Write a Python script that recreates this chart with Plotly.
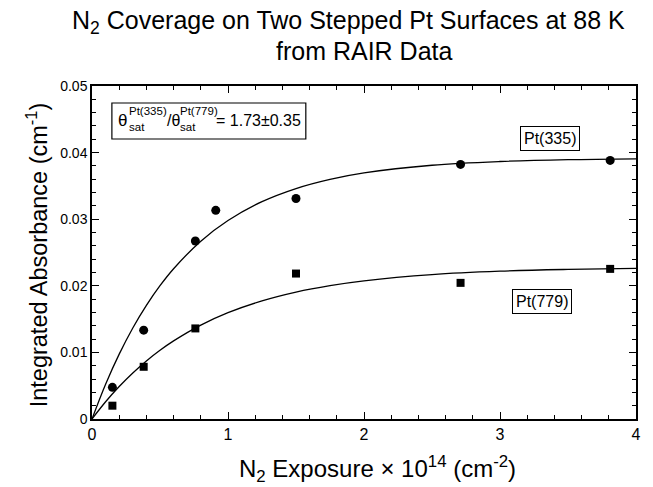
import plotly.graph_objects as go

# Measured data points
exposure = [0.15, 0.38, 0.76, 0.91, 1.50, 2.71, 3.81]
pt335 = [0.00475, 0.01334, 0.02673, 0.03133, 0.0331, 0.03823, 0.03883]
exposure_779 = [0.15, 0.38, 0.76, 1.50, 2.71, 3.81]
pt779 = [0.0020, 0.00784, 0.0136, 0.02184, 0.02044, 0.02254]

# Fit curves
fit_x = [0, 0.1, 0.2, 0.3, 0.4, 0.5, 0.6, 0.8, 1.0, 1.25, 1.5, 1.75, 2.0, 2.5, 3.0, 3.5, 4.0]
fit_335 = [0, 0.00522, 0.00974, 0.01367, 0.01706, 0.02001, 0.02256, 0.02670, 0.02980,
           0.03263, 0.03460, 0.03598, 0.03695, 0.03810, 0.03866, 0.03894, 0.03907]
fit_779 = [0, 0.00259, 0.00488, 0.00692, 0.00872, 0.01032, 0.01173, 0.01410, 0.01597,
           0.01774, 0.01906, 0.02003, 0.02075, 0.02168, 0.02219, 0.02246, 0.02262]

x_ticks = [0, 1, 2, 3, 4]
x_ticktext = ["0", "1", "2", "3", "4"]
y_ticks = [0, 0.01, 0.02, 0.03, 0.04, 0.05]
y_ticktext = ["0", "0.01", "0.02", "0.03", "0.04", "0.05"]

FONT = "Liberation Sans, Arial, sans-serif"
W, H = 653, 487
L, R, T, B = 92, 14, 86, 68
PW, PH = W - L - R, H - T - B

def px(x):
    return (x - L) / PW

def py(y):
    return (H - B - y) / PH

fig = go.Figure()
fig.add_trace(go.Scatter(x=fit_x, y=fit_335, mode="lines", line=dict(color="black", width=1.3, shape="spline"),
                         showlegend=False, hoverinfo="skip"))
fig.add_trace(go.Scatter(x=fit_x, y=fit_779, mode="lines", line=dict(color="black", width=1.3, shape="spline"),
                         showlegend=False, hoverinfo="skip"))
fig.add_trace(go.Scatter(x=exposure, y=pt335, mode="markers",
                         marker=dict(symbol="circle", size=9, color="black"), showlegend=False))
fig.add_trace(go.Scatter(x=exposure_779, y=pt779, mode="markers",
                         marker=dict(symbol="square", size=8, color="black"), showlegend=False))

axis_common = dict(
    showline=True, linecolor="black", linewidth=1.5, mirror="ticks",
    ticks="inside", ticklen=7, tickwidth=1.2, tickcolor="black",
    showgrid=False, zeroline=False,
)

fig.update_xaxes(range=[0, 4], tickvals=x_ticks, ticktext=x_ticktext,
                 tickfont=dict(family=FONT, size=16, color="black"),
                 minor=dict(dtick=0.2, ticks="inside", ticklen=4, tickwidth=1, tickcolor="black", showgrid=False),
                 **axis_common)
fig.update_yaxes(range=[0, 0.05], tickvals=y_ticks, ticktext=y_ticktext,
                 tickfont=dict(family=FONT, size=14, color="black"),
                 minor=dict(dtick=0.002, ticks="inside", ticklen=4, tickwidth=1, tickcolor="black", showgrid=False),
                 **axis_common)

def ann(text, x, y, size, xanchor="center", yanchor="middle", **kw):
    d = dict(text=text, x=px(x), y=py(y), xref="paper", yref="paper",
             xanchor=xanchor, yanchor=yanchor, showarrow=False,
             font=dict(family=FONT, size=size, color="black"))
    d.update(kw)
    return d

annotations = [
    # chart title, two lines
    ann("N<sub>2</sub> Coverage on Two Stepped Pt Surfaces at 88 K", 350, 22, 25),
    ann("from RAIR Data", 366, 51, 25),
    # axis titles
    ann("N<sub>2</sub> Exposure × 10<sup>14</sup> (cm<sup>-2</sup>)", 379, 469, 24),
    ann("Integrated Absorbance (cm<sup>-1</sup>)", 37, 255, 23.5, textangle=-90),
]

# ratio box pieces
pieces = [
    ("θ", 116, 120, 17),
    ("Pt(335)", 127, 111, 11.5),
    ("sat", 127, 127, 11.5),
    ("/θ", 165, 120, 16),
    ("Pt(779)", 178, 111, 11.5),
    ("sat", 178, 127, 11.5),
    ("= 1.73±0.35", 215, 120, 16),
]
for txt, x0, y0, s in pieces:
    annotations.append(ann(txt, x0, y0, s, xanchor="left"))

annotations.append(ann("Pt(335)", 553, 138, 16, bordercolor="black", borderwidth=1, borderpad=3,
                       bgcolor="white"))
annotations.append(ann("Pt(779)", 544, 301, 16, bordercolor="black", borderwidth=1, borderpad=3,
                       bgcolor="white"))

fig.update_layout(
    width=W, height=H,
    margin=dict(l=L, r=R, t=T, b=B),
    paper_bgcolor="white", plot_bgcolor="white",
    annotations=annotations,
    shapes=[dict(type="rect", xref="paper", yref="paper",
                 x0=px(112), x1=px(307), y0=py(139), y1=py(103),
                 line=dict(color="black", width=1.2))],
)

fig.write_html("out.html", config={"displayModeBar": False},
               post_script="document.body.style.margin='0px';document.body.style.overflow='hidden';")
